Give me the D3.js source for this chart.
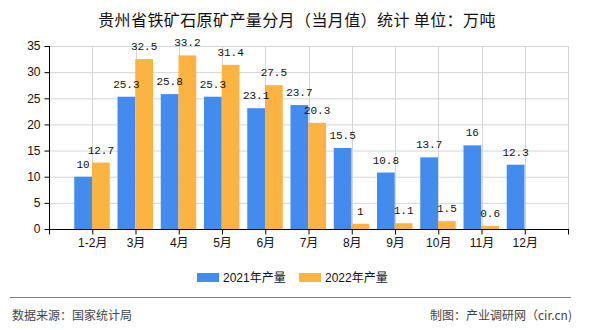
<!DOCTYPE html>
<html><head><meta charset="utf-8">
<script src="https://cdn.jsdelivr.net/npm/d3@7/dist/d3.min.js"></script>
<style>
html,body{margin:0;padding:0;background:#fff;}
text{font-family:"Liberation Sans","Noto Sans CJK SC",sans-serif;}
</style></head>
<body><svg id="c" width="590" height="330"></svg>
<script>
const categories = ["1-2月","3月","4月","5月","6月","7月","8月","9月","10月","11月","12月"];
const series2021 = [10,25.3,25.8,25.3,23.1,23.7,15.5,10.8,13.7,16,12.3];
const series2022 = [12.7,32.5,33.2,31.4,27.5,20.3,1,1.1,1.5,0.6,null];
const seriesNames = ["2021年产量","2022年产量"];
const seriesColors = ["#438cee","#fbb342"];
const yTicks = [0,5,10,15,20,25,30,35];
const titleText = "贵州省铁矿石原矿产量分月（当月值）统计 单位：万吨";
const sourceText = "数据来源：国家统计局";
const makerText = "制图：产业调研网（cir.cn)";

const svg = d3.select("#c");
const L = 49, R = 568, T = 46, B = 229;
const keys = ["_s", ...categories, "_e"];
const x = d3.scalePoint().domain(keys).range([L, R]);
const y = d3.scaleLinear().domain([0, 35]).range([B, T]);
const xs = d3.scaleBand().domain(seriesNames).range([-18, 17.5]).padding(0);

// title
svg.append("text").attr("x", 297).attr("y", 26).attr("text-anchor", "middle")
  .style("font-size", "16px").style("letter-spacing", "0.4px")
  .style("font-family", "'Noto Sans CJK SC',sans-serif").attr("fill", "#111").text(titleText);

// grid
const g = svg.append("g");
g.selectAll(".hg").data(yTicks.slice(1)).join("line")
  .attr("x1", L).attr("x2", R).attr("y1", d => y(d) + 0.5).attr("y2", d => y(d) + 0.5)
  .attr("stroke", "#d4d4d4").attr("stroke-width", 1);
g.selectAll(".vg").data(keys.slice(1)).join("line")
  .attr("x1", d => Math.round(x(d)) + 0.5).attr("x2", d => Math.round(x(d)) + 0.5)
  .attr("y1", T).attr("y2", B).attr("stroke", "#d4d4d4").attr("stroke-width", 1);

// bars
const data = categories.map((c, i) => ({c, v: [series2021[i], series2022[i]]}));
const grp = svg.append("g");
const lab = svg.append("g");
seriesNames.forEach((s, si) => {
  const vals = data.filter(d => d.v[si] != null);
  grp.selectAll(".b" + si).data(vals).join("rect")
    .attr("x", d => x(d.c) + xs(s)).attr("width", xs.bandwidth())
    .attr("y", d => y(d.v[si])).attr("height", d => y(0) - y(d.v[si]))
    .attr("fill", seriesColors[si]);
  lab.selectAll(".l" + si).data(vals).join("text")
    .attr("x", d => x(d.c) + xs(s) + xs.bandwidth() / 2)
    .attr("y", d => y(d.v[si]) - 9)
    .attr("text-anchor", "middle")
    .style("font-family", "'Liberation Mono',monospace").style("font-size", "11px")
    .attr("fill", "#111").text(d => d.v[si]);
});

// axes
const yAxis = d3.axisLeft(y).tickValues(yTicks).tickSize(5).tickPadding(4);
const ya = svg.append("g").attr("transform", `translate(${L + 0.5},0)`).call(yAxis);
ya.select(".domain").attr("stroke", "#000").attr("d", `M0,${T}V${B}`);
ya.selectAll(".tick line").attr("stroke", "#000");
ya.selectAll("text").style("font-size", "12px").attr("fill", "#111");

const xAxis = d3.axisBottom(x).tickSize(5).tickPadding(4).tickFormat(d => d.startsWith("_") ? "" : d);
const xa = svg.append("g").attr("transform", `translate(0,${B + 0.5})`).call(xAxis);
xa.select(".domain").attr("stroke", "#000").attr("d", `M${L},0H${R + 1}`);
xa.selectAll(".tick line").attr("stroke", "#000");
xa.selectAll("text").style("font-size", "12px").attr("fill", "#111");

lab.raise();

// legend
const legX = [197, 299];
seriesNames.forEach((s, i) => {
  svg.append("rect").attr("x", legX[i]).attr("y", 273).attr("width", 22).attr("height", 9).attr("fill", seriesColors[i]);
  svg.append("text").attr("x", legX[i] + 26).attr("y", 282).style("font-size", "12px").attr("fill", "#111").text(s);
});

// footer
svg.append("line").attr("x1", 10).attr("x2", 571).attr("y1", 297.5).attr("y2", 297.5).attr("stroke", "#808080").attr("stroke-width", 1);
svg.append("text").attr("x", 12).attr("y", 320).style("font-size", "12px").attr("fill", "#444")
  .style("font-family", "'Noto Sans CJK SC',sans-serif").text(sourceText);
svg.append("text").attr("x", 572).attr("y", 320).attr("text-anchor", "end").style("font-size", "12px").attr("fill", "#444")
  .style("font-family", "'Noto Sans CJK SC',sans-serif").text(makerText);
</script></body></html>
